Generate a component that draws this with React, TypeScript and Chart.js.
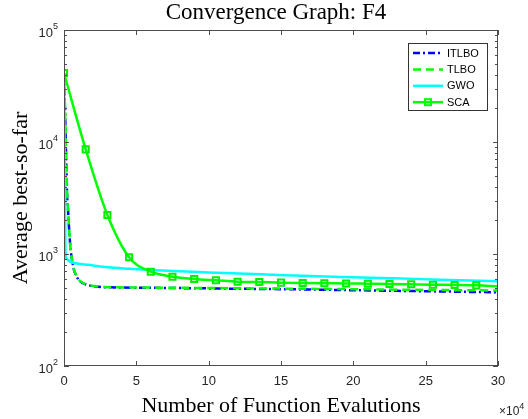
import React, { useEffect, useRef } from "react";
import { Chart, registerables } from "chart.js";

Chart.register(...registerables);

// Function evaluations are in units of 10^4
const itlboX = [0, 0.05, 0.1, 0.15, 0.23, 0.28, 0.35, 0.46, 0.58, 0.69, 0.85, 1.02, 1.3, 1.66, 2.1, 2.56, 3.5, 5, 7.5, 10, 12.5, 15.9, 20, 25, 30];
const itlboY = [41000, 23700, 14000, 7000, 3030, 2470, 1700, 1087, 850, 720, 640, 586, 550, 528, 515, 507, 503, 500, 497, 493, 489, 484, 475, 465, 455];

const tlboX = [0, 0.05, 0.1, 0.15, 0.23, 0.28, 0.35, 0.46, 0.58, 0.69, 0.85, 1.02, 1.3, 1.66, 2.1, 2.56, 3.5, 5, 7.5, 10, 12.5, 15.9, 20, 25, 30];
const tlboY = [41000, 24000, 14500, 7200, 3100, 2500, 1720, 1095, 855, 725, 645, 590, 553, 530, 517, 509, 505, 502, 500, 497, 494, 490, 485, 478, 472];

const gwoX = [0, 0.03, 0.07, 0.1, 0.2, 0.4, 0.62, 1, 1.66, 3, 4.5, 6, 8, 10, 13.6, 17, 20, 22.8, 26, 30];
const gwoY = [41000, 15000, 3000, 1050, 900, 860, 835, 820, 800, 760, 738, 720, 700, 685, 659, 635, 620, 607, 590, 570];

const scaX = [0, 1.5, 3, 4.5, 6, 7.5, 9, 10.5, 12, 13.5, 15, 16.5, 18, 19.5, 21, 22.5, 24, 25.5, 27, 28.5, 30];
const scaY = [41300, 8600, 2230, 935, 695, 627, 598, 582, 566, 562, 555, 551, 548, 546, 543, 540, 536, 532, 529, 525, 514];

const seriesNames = ["ITLBO", "TLBO", "GWO", "SCA"];

const xTicks = [0, 5, 10, 15, 20, 25, 30];
const yTickExponents = [2, 3, 4, 5];

const titleText = "Convergence Graph: F4";
const xTitle = "Number of Function Evalutions";
const yTitle = "Average best-so-far";

const AXIS_COLOR = "#4d4d4d";
const LABEL_COLOR = "#262626";
const SANS = '"Liberation Sans", Arial, sans-serif';
const SERIF = '"Liberation Serif", "Times New Roman", serif';

const toPoints = (xs: number[], ys: number[]) => xs.map((x, i) => ({ x, y: ys[i] }));

const axesPlugin = {
  id: "matlabAxes",
  afterDraw(chart: any) {
    const { ctx, chartArea: a, scales } = chart;
    const xs = scales.x;
    const ys = scales.y;
    ctx.save();

    // frame
    ctx.strokeStyle = AXIS_COLOR;
    ctx.lineWidth = 1;
    ctx.strokeRect(a.left + 0.5, a.top + 0.5, a.right - a.left - 1, a.bottom - a.top - 1);

    // x ticks (inward, top and bottom)
    ctx.beginPath();
    xTicks.forEach((v) => {
      const px = Math.round(xs.getPixelForValue(v)) + 0.5;
      ctx.moveTo(px, a.bottom);
      ctx.lineTo(px, a.bottom - 5);
      ctx.moveTo(px, a.top);
      ctx.lineTo(px, a.top + 5);
    });
    // y ticks, major and minor (inward, left and right)
    yTickExponents.forEach((e, idx) => {
      const base = Math.pow(10, e);
      const py = Math.round(ys.getPixelForValue(base)) + 0.5;
      ctx.moveTo(a.left, py);
      ctx.lineTo(a.left + 5, py);
      ctx.moveTo(a.right, py);
      ctx.lineTo(a.right - 5, py);
      if (idx < yTickExponents.length - 1) {
        for (let m = 2; m <= 9; m++) {
          const pm = Math.round(ys.getPixelForValue(base * m)) + 0.5;
          ctx.moveTo(a.left, pm);
          ctx.lineTo(a.left + 3, pm);
          ctx.moveTo(a.right, pm);
          ctx.lineTo(a.right - 3, pm);
        }
      }
    });
    ctx.stroke();

    // x tick labels
    ctx.fillStyle = LABEL_COLOR;
    ctx.font = `13px ${SANS}`;
    ctx.textAlign = "center";
    ctx.textBaseline = "middle";
    xTicks.forEach((v) => {
      ctx.fillText(String(v), xs.getPixelForValue(v), a.bottom + 15);
    });

    // y tick labels 10^n
    yTickExponents.forEach((e) => {
      const py = ys.getPixelForValue(Math.pow(10, e));
      ctx.font = `9px ${SANS}`;
      ctx.textAlign = "right";
      const ew = ctx.measureText(String(e)).width;
      ctx.fillText(String(e), a.left - 6, py - 3);
      ctx.font = `13px ${SANS}`;
      ctx.fillText("10", a.left - 6 - ew, py + 3);
    });

    // x multiplier
    ctx.textAlign = "left";
    ctx.font = `12px ${SANS}`;
    const mult = "\u00d710";
    ctx.fillText(mult, a.right + 1, a.bottom + 46);
    const mw = ctx.measureText(mult).width;
    ctx.font = `9px ${SANS}`;
    ctx.fillText("4", a.right + 1 + mw, a.bottom + 41);

    // titles
    ctx.fillStyle = "#000";
    ctx.textAlign = "center";
    ctx.textBaseline = "alphabetic";
    ctx.font = `23px ${SERIF}`;
    ctx.fillText(titleText, (a.left + a.right) / 2 - 5, 19);
    ctx.font = `22px ${SERIF}`;
    ctx.fillText(xTitle, (a.left + a.right) / 2, 412);
    ctx.save();
    ctx.translate(27, (a.top + a.bottom) / 2);
    ctx.rotate(-Math.PI / 2);
    ctx.fillText(yTitle, 0, 0);
    ctx.restore();

    // legend
    const lx = 408, ly = 43, lw = 79, lh = 67;
    ctx.fillStyle = "#fff";
    ctx.fillRect(lx, ly, lw, lh);
    ctx.strokeStyle = "#333";
    ctx.lineWidth = 1;
    ctx.strokeRect(lx + 0.5, ly + 0.5, lw, lh);
    chart.data.datasets.forEach((ds: any, i: number) => {
      const y = ly + 10 + i * 16.4;
      ctx.save();
      ctx.strokeStyle = ds.borderColor;
      ctx.lineWidth = ds.borderWidth;
      ctx.setLineDash(ds.borderDash || []);
      ctx.beginPath();
      ctx.moveTo(lx + 5, y);
      ctx.lineTo(lx + 35, y);
      ctx.stroke();
      ctx.setLineDash([]);
      if (ds.label === "SCA") {
        ctx.lineWidth = 2;
        ctx.strokeRect(lx + 17, y - 3, 6, 6);
      }
      ctx.restore();
      ctx.fillStyle = "#000";
      ctx.font = `11px ${SANS}`;
      ctx.textAlign = "left";
      ctx.textBaseline = "middle";
      ctx.fillText(ds.label, lx + 39, y + 0.5);
    });

    ctx.restore();
  },
};

export default function App() {
  const canvasRef = useRef<HTMLCanvasElement | null>(null);

  useEffect(() => {
    if (!canvasRef.current) return;
    const scaRadius = scaX.map((x) => (x === 30 ? 0 : 4.3));
    const chart = new Chart(canvasRef.current, {
      type: "line",
      data: {
        datasets: [
          {
            label: seriesNames[0],
            data: toPoints(itlboX, itlboY),
            borderColor: "#0000ff",
            borderWidth: 2.5,
            borderDash: [7, 3, 2, 3],
            pointRadius: 0,
            cubicInterpolationMode: "monotone",
            order: 4,
          },
          {
            label: seriesNames[1],
            data: toPoints(tlboX, tlboY),
            borderColor: "#00ff00",
            borderWidth: 2.5,
            borderDash: [8, 5],
            pointRadius: 0,
            cubicInterpolationMode: "monotone",
            order: 3,
          },
          {
            label: seriesNames[2],
            data: toPoints(gwoX, gwoY),
            borderColor: "#00ffff",
            borderWidth: 2.5,
            pointRadius: 0,
            cubicInterpolationMode: "monotone",
            order: 2,
          },
          {
            label: seriesNames[3],
            data: toPoints(scaX, scaY),
            borderColor: "#00ff00",
            borderWidth: 2.5,
            pointStyle: "rect",
            pointRadius: scaRadius,
            pointBorderWidth: 2,
            pointBorderColor: "#00ee00",
            pointBackgroundColor: "rgba(255,255,255,0)",
            cubicInterpolationMode: "monotone",
            order: 1,
          },
        ] as any,
      },
      options: {
        animation: false,
        responsive: false,
        devicePixelRatio: 1,
        layout: { padding: { left: 64, top: 30, right: 30, bottom: 53 } },
        plugins: {
          legend: { display: false },
          title: { display: false },
          tooltip: { enabled: false },
        },
        scales: {
          x: { type: "linear", min: 0, max: 30, display: false },
          y: { type: "logarithmic", min: 100, max: 100000, display: false },
        },
      },
      plugins: [axesPlugin],
    });
    return () => chart.destroy();
  }, []);

  return (
    <div style={{ position: "fixed", left: 0, top: 0, width: 528, height: 419, background: "#fff" }}>
      <canvas ref={canvasRef} width={528} height={419} />
    </div>
  );
}
